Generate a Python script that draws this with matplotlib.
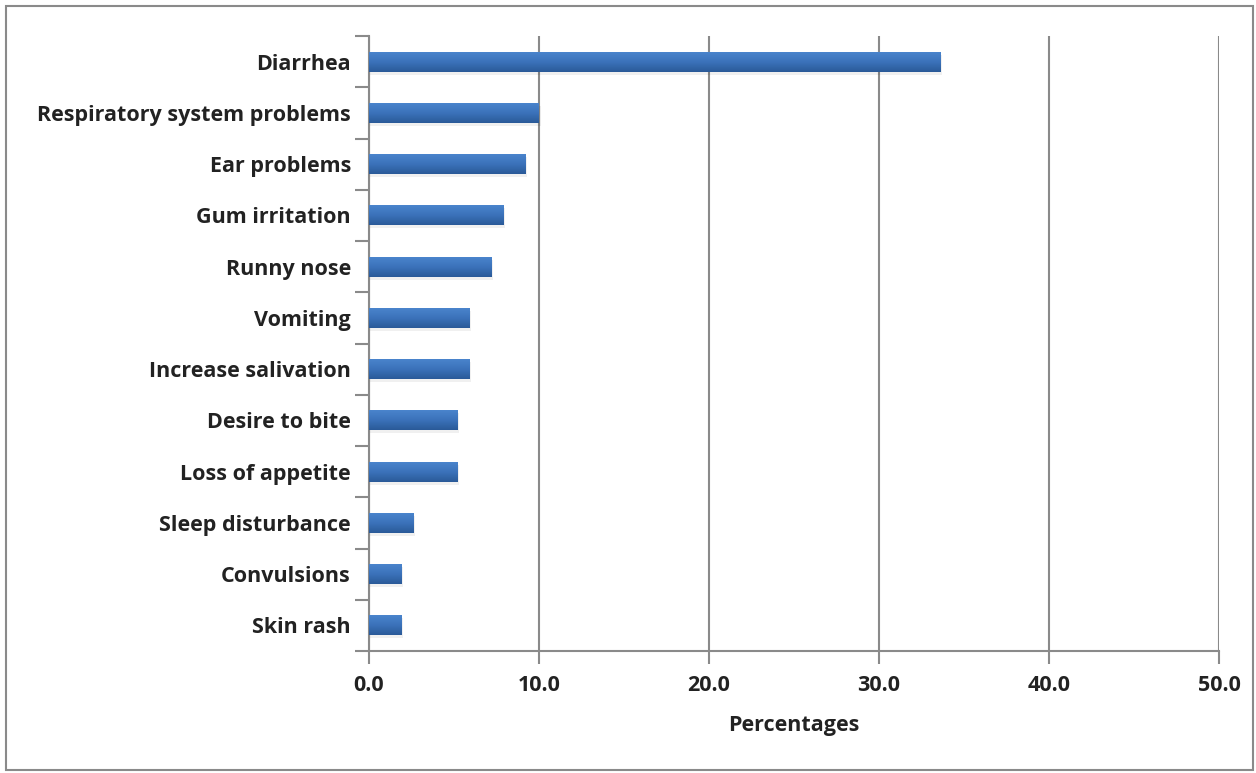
import numpy as np
import matplotlib.pyplot as plt
from matplotlib.patches import Rectangle

symptoms = ['Diarrhea', 'Respiratory system problems', 'Ear problems', 'Gum irritation',
            'Runny nose', 'Vomiting', 'Increase salivation', 'Desire to bite',
            'Loss of appetite', 'Sleep disturbance', 'Convulsions', 'Skin rash']
percent = [33.6, 10.0, 9.2, 7.9, 7.2, 5.9, 5.9, 5.2, 5.2, 2.6, 1.9, 1.9]
xticks = [0, 10, 20, 30, 40, 50]

plt.rcParams['font.family'] = ['Open Sans', 'DejaVu Sans']

fig = plt.figure(figsize=(12.56, 7.73), dpi=100)
ax = fig.add_axes([369 / 1256, 1 - 651 / 773, 850 / 1256, 615 / 773])

# outer frame of the chart area
fig.patches.append(Rectangle((6 / 1256, 3 / 773), 1247 / 1256, 764 / 773,
                             transform=fig.transFigure, fill=False,
                             edgecolor='#8a8a8a', linewidth=1.5))

n = len(symptoms)
ypos = np.arange(n)[::-1]
h = 0.39
grad = np.linspace(0, 1, 64).reshape(-1, 1)
cmap = plt.matplotlib.colors.LinearSegmentedColormap.from_list(
    'bar', ['#2a5a98', '#3b72ba', '#4a84cc'])

for y, v in zip(ypos, percent):
    # soft shadow under the bar
    ax.add_patch(Rectangle((0, y - h / 2 - 0.06), v + 0.12, h, facecolor='#000000',
                           alpha=0.06, linewidth=0, zorder=2))
    bar = ax.barh(y, v, height=h, color='#3b72ba', edgecolor='none', zorder=3)[0]
    im = ax.imshow(grad, cmap=cmap, aspect='auto', zorder=4,
                   extent=[0, v, y - h / 2, y + h / 2], origin='lower')
    im.set_clip_path(bar)

tfont = dict(fontsize=15.5, fontweight='bold', color='#222222')
ax.set_xlim(0, 50)
ax.set_ylim(-0.5, n - 0.5)
ax.set_xticks(xticks)
ax.set_xticklabels([f'{t:.1f}' for t in xticks], **tfont)
ax.set_yticks(ypos)
ax.set_yticklabels(symptoms, **tfont)
ax.set_yticks(np.arange(-0.5, n, 1), minor=True)
ax.tick_params(axis='y', which='major', length=0, pad=13)
ax.tick_params(axis='y', which='minor', length=10, width=1.5, color='#8a8a8a')
ax.tick_params(axis='x', length=9, width=1.5, color='#8a8a8a', pad=8)

ax.xaxis.grid(True, color='#8a8a8a', linewidth=1.5, zorder=1)
ax.set_axisbelow(True)
for s in ['top', 'right']:
    ax.spines[s].set_visible(False)
for s in ['left', 'bottom']:
    ax.spines[s].set_color('#8a8a8a')
    ax.spines[s].set_linewidth(1.5)

ax.set_xlabel('Percentages', labelpad=14, **tfont)

fig.savefig('out.png', dpi=100)
